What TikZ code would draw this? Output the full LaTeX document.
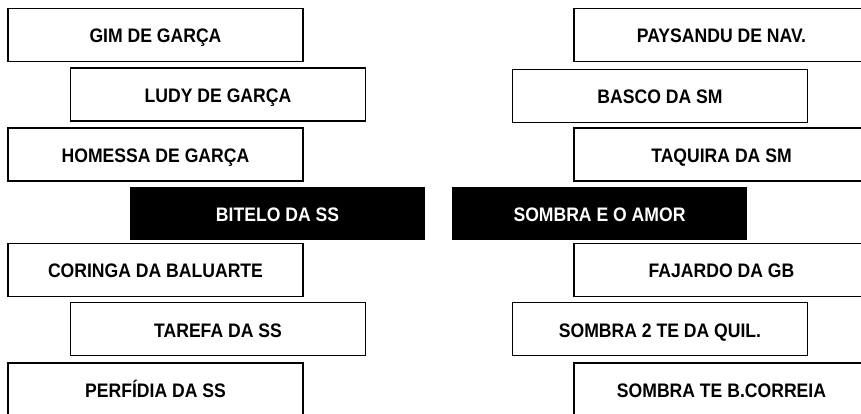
\documentclass[tikz,border=0pt]{standalone}
\usepackage{fontspec}
\newfontfamily\horsefont[FakeStretch=0.9]{Liberation Sans}
\usepackage{tikz}

\tikzset{
  horse/.style={draw, line width=0.9pt, minimum width=7.375cm, minimum height=1.325cm,
    inner sep=0pt, text height=11.4pt, text depth=0pt,
    font=\horsefont\bfseries\fontsize{13.9}{16}\selectfont},
  pair/.style={horse, draw=none, fill=black, text=white}
}

\begin{document}
\begin{tikzpicture}
  % Page frame
  \clip (0,0) rectangle (21.525,10.325);

  % Left side
  \node[horse] (gim) at (3.8875, 9.456) {GIM DE GARÇA};
  \node[horse] (ludy) at (5.45, 7.9625) {LUDY DE GARÇA};
  \node[horse] (homessa) at (3.8875, 6.4625) {HOMESSA DE GARÇA};
  \node[horse] (coringa) at (3.8875, 3.581) {CORINGA DA BALUARTE};
  \node[horse] (tarefa) at (5.45, 2.1) {TAREFA DA SS};
  \node[horse] (perfidia) at (3.8875, 0.59) {PERFÍDIA DA SS};

  % Right side
  \node[horse] (paysandu) at (18.0375, 9.456) {PAYSANDU DE NAV.};
  \node[horse] (basco) at (16.5, 7.93) {BASCO DA SM};
  \node[horse] (taquira) at (18.0375, 6.4625) {TAQUIRA DA SM};
  \node[horse] (fajardo) at (18.0375, 3.581) {FAJARDO DA GB};
  \node[horse] (sombradois) at (16.5, 2.1) {SOMBRA 2 TE DA QUIL.};
  \node[horse] (sombrate) at (18.0375, 0.59) {SOMBRA TE B.CORREIA};

  % The pair in the middle
  \node[pair] (bitelo) at (6.9375, 4.9875) {BITELO DA SS};
  \node[pair] (sombra) at (14.9875, 4.9875) {SOMBRA E O AMOR};

\end{tikzpicture}
\end{document}
